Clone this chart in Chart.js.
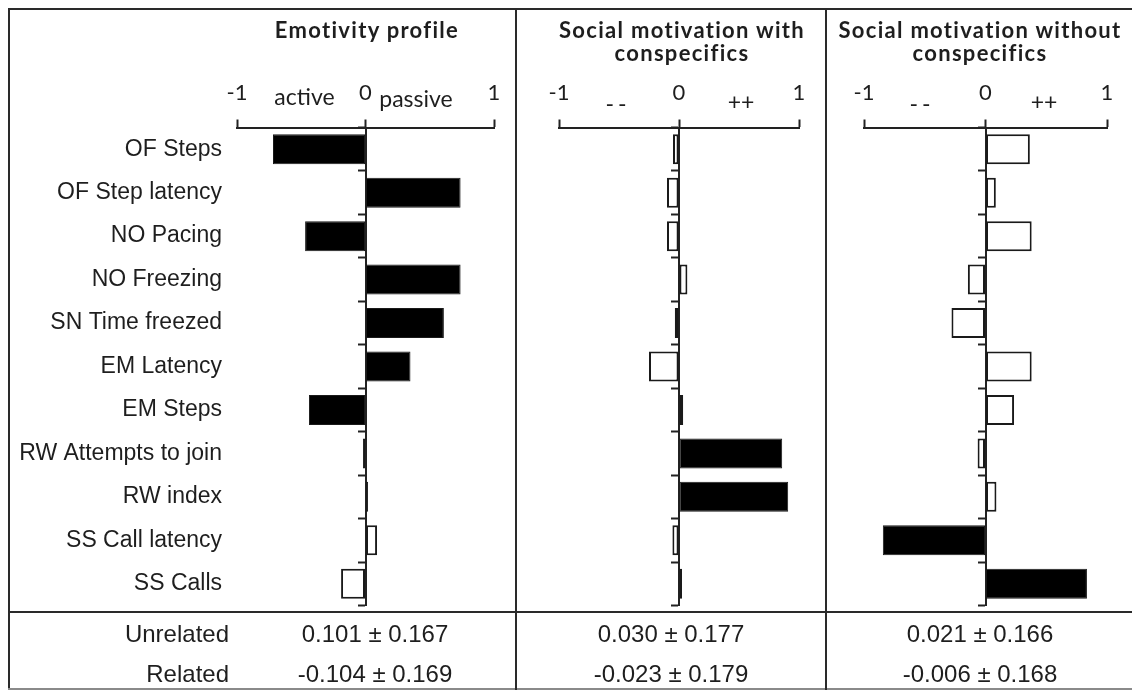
<!DOCTYPE html>
<html><head><meta charset="utf-8">
<script src="https://cdn.jsdelivr.net/npm/chart.js@4.4.0/dist/chart.umd.min.js"></script>
<style>
html,body{margin:0;padding:0;background:#fff;}
#stage{position:relative;width:1132px;height:691px;overflow:hidden;background:#fff;}
canvas{position:absolute;left:0;top:0;}
.ln{position:absolute;background:#2a2a2a;}
.t{position:absolute;white-space:nowrap;line-height:1;color:#1e1e1e;}
.title{font-family:Lato,"Open Sans",sans-serif;font-weight:700;font-size:22px;letter-spacing:1.3px;}
.ax{font-family:Lato,"Open Sans",sans-serif;font-size:23px;}
.tb{font-family:"Liberation Sans",Arial,sans-serif;font-size:24px;}
</style></head><body>
<div id="stage">
  <canvas id="c1" width="1132" height="691"></canvas>
  <canvas id="c2" width="1132" height="691"></canvas>
  <canvas id="c3" width="1132" height="691"></canvas>
</div>
<script>
// ---------- data ----------
const categories = ['OF Steps', 'OF Step latency', 'NO Pacing', 'NO Freezing', 'SN Time freezed', 'EM Latency', 'EM Steps', 'RW Attempts to join', 'RW index', 'SS Call latency', 'SS Calls'];
const emotivity = [-0.72, 0.74, -0.47, 0.74, 0.61, 0.35, -0.44, -0.02, 0.02, 0.09, -0.19];
const emotivitySig = [1, 1, 1, 1, 1, 1, 1, 1, 1, 0, 0];
const socialWith = [-0.05, -0.10, -0.10, 0.07, -0.035, -0.25, 0.035, 0.86, 0.91, -0.055, 0.025];
const socialWithSig = [0, 0, 0, 0, 0, 0, 0, 1, 1, 0, 0];
const socialWithout = [0.365, 0.085, 0.38, -0.145, -0.28, 0.38, 0.235, -0.065, 0.09, -0.845, 0.835];
const socialWithoutSig = [0, 0, 0, 0, 0, 0, 0, 0, 0, 1, 1];
const xTickValues = [-1, 0, 1];
const titleLines = [['Emotivity profile'], ['Social motivation with', 'conspecifics'], ['Social motivation without', 'conspecifics']];
const axisWords = [['active', 'passive'], ['--', '++'], ['--', '++']];
const rowHeaders = ['Unrelated', 'Related'];
const unrelated = ['0.101 ± 0.167', '0.030 ± 0.177', '0.021 ± 0.166'];
const related = ['-0.104 ± 0.169', '-0.023 ± 0.179', '-0.006 ± 0.168'];

// ---------- layout ----------
const W = 1132, H = 691, TOP = 127.5, BOTTOM = 605.5;
const LINE = '#222', TXT = '#1e1e1e';
const panels = [
  {id: 'c1', values: emotivity, sig: emotivitySig, left: 237, right: 494, labels: true,
   titleX: 367, wordX: [304.5, 416], wordY: [96, 97.5]},
  {id: 'c2', values: socialWith, sig: socialWithSig, left: 559, right: 799,
   titleX: 682, wordX: [618, 741], wordY: [103, 101]},
  {id: 'c3', values: socialWithout, sig: socialWithoutSig, left: 864, right: 1107,
   titleX: 980, wordX: [922, 1044], wordY: [103, 101]}
];
const titleY = [30, 53];
const statX = [375, 671, 980];
const statY = [634, 673.5];

const stage = document.getElementById('stage');
function line(l, t, w, h, c) {
  const d = document.createElement('div');
  d.className = 'ln';
  d.style.cssText = `left:${l}px;top:${t}px;width:${w}px;height:${h}px;` + (c ? `background:${c};` : '');
  stage.appendChild(d);
}
function text(str, cls, x, y, align) {
  const d = document.createElement('div');
  d.className = 't ' + cls;
  d.textContent = str;
  const tx = align === 'right' ? '-100%' : '-50%';
  d.style.cssText = `left:${x}px;top:${y}px;transform:translate(${tx},-50%);`;
  stage.appendChild(d);
  return d;
}

// frame
line(8, 8, 1124, 2);
line(8, 8, 2, 682);
line(8, 688, 1124, 2, '#8a8a8a');
line(515, 8, 2, 682);
line(825, 8, 2, 682);
line(8, 611, 1124, 2);

// charts
function makeChart(p) {
  const scales = {
    x: {
      type: 'linear', axis: 'x', position: 'top', min: -1, max: 1,
      afterBuildTicks: s => { s.ticks = xTickValues.map(v => ({value: v})); },
      afterFit: s => { s.height = TOP; },
      grid: {drawOnChartArea: false, drawTicks: true, tickLength: 8, tickWidth: 2, tickColor: LINE},
      border: {display: true, color: LINE, width: 2},
      ticks: {font: {family: 'Lato', size: 22}, color: TXT, padding: 13, maxRotation: 0, autoSkip: false}
    },
    y: {
      type: 'category', axis: 'y', position: {x: 0}, offset: true,
      grid: {offset: true, drawOnChartArea: false, drawTicks: true, tickLength: 7, tickWidth: 2, tickColor: LINE},
      border: {display: true, color: LINE, width: 2},
      ticks: {display: false}
    }
  };
  if (p.labels) {
    scales.yl = {
      type: 'category', axis: 'y', position: 'left', offset: true,
      grid: {display: false, drawTicks: false},
      border: {display: false},
      ticks: {font: {family: 'Liberation Sans', size: 23}, color: TXT, padding: 15, autoSkip: false},
      afterFit: s => { s.width = p.left; }
    };
  }
  return new Chart(document.getElementById(p.id), {
    type: 'bar',
    data: {
      labels: categories,
      datasets: [{
        data: p.values,
        backgroundColor: p.sig.map(s => s ? '#000' : '#fff'),
        borderColor: '#1a1a1a',
        borderWidth: p.sig.map(s => s ? 1 : 2),
        borderSkipped: false,
        barPercentage: 0.69,
        categoryPercentage: 1
      }]
    },
    options: {
      indexAxis: 'y',
      responsive: false,
      maintainAspectRatio: false,
      animation: false,
      devicePixelRatio: 1,
      events: [],
      layout: {padding: {left: p.labels ? 0 : p.left, right: W - p.right, top: 0, bottom: H - BOTTOM}},
      plugins: {legend: {display: false}, tooltip: {enabled: false}, title: {display: false}},
      scales
    }
  });
}
panels.forEach(makeChart);

// titles and axis words
panels.forEach((p, i) => {
  titleLines[i].forEach((s, k) => text(s, 'title', p.titleX, titleY[k]));
  axisWords[i].forEach((s, k) => {
    const d = text(s, 'ax', p.wordX[k], p.wordY[k]);
    if (s === '--') d.style.letterSpacing = '4px';
  });
});

// table
rowHeaders.forEach((s, r) => text(s, 'tb', 229, statY[r], 'right'));
unrelated.forEach((s, c) => text(s, 'tb', statX[c], statY[0]));
related.forEach((s, c) => text(s, 'tb', statX[c], statY[1]));
</script>
</body></html>
